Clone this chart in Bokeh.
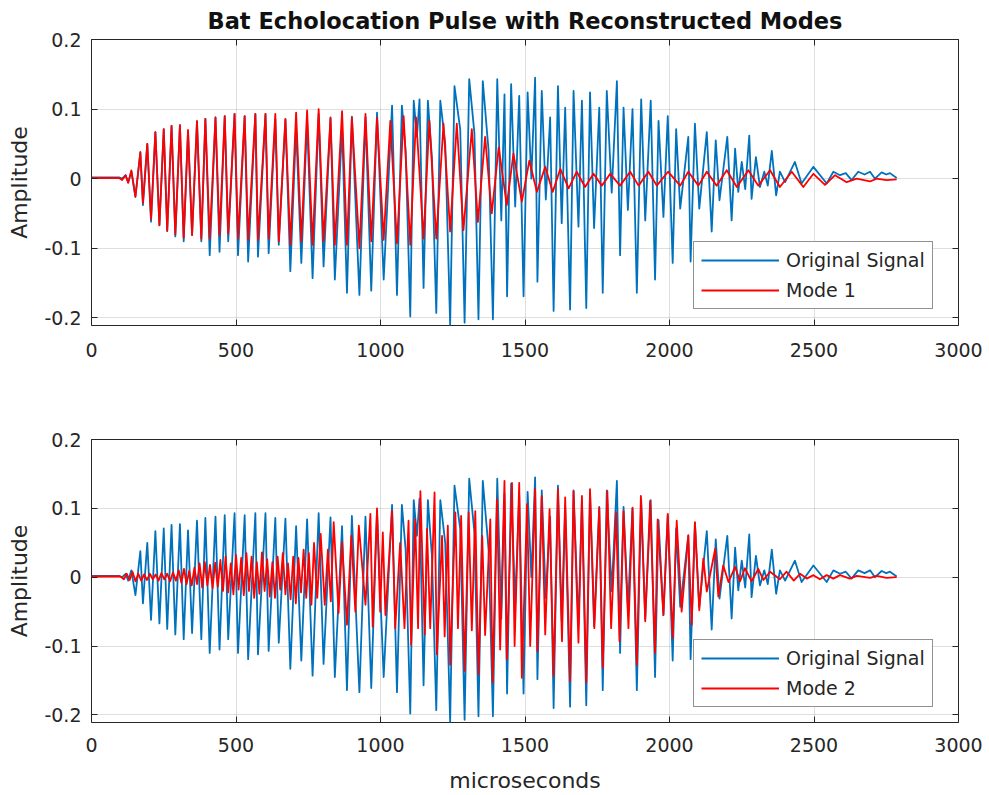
from bokeh.plotting import figure
from bokeh.layouts import column
from bokeh.models import (LinearAxis, FixedTicker, Range1d, Legend, LegendItem,
                          Title, Grid)
from bokeh.embed import file_html
from bokeh.resources import INLINE

# ---------------- data ----------------
# time in microseconds, amplitude values at the visible turning points
orig_t = [0, 95, 106, 118, 127, 138, 152, 169, 178, 193,
          206, 221, 235, 250, 262, 277, 290, 306, 319, 334,
          348, 365, 380, 394, 409, 429, 443, 461, 473, 495,
          507, 530, 542, 567, 576, 602, 613, 636, 648, 671,
          688, 708, 726, 746, 765, 786, 803, 827, 842, 867,
          884, 901, 927, 948, 968, 988,
          1011, 1040, 1057, 1074, 1087, 1103, 1115, 1126, 1135, 1149,
          1164, 1178, 1193, 1207, 1224, 1241, 1256, 1276, 1291, 1307,
          1325, 1339, 1354, 1374, 1389, 1404, 1418, 1429, 1438, 1452,
          1466, 1480, 1495, 1509, 1522,
          1535, 1543, 1558, 1572, 1587, 1599, 1614, 1627, 1639, 1656,
          1668, 1685, 1697, 1712, 1725, 1739, 1757, 1769, 1783, 1800,
          1818, 1829, 1841, 1856, 1872, 1887, 1902, 1916, 1935, 1950,
          1962, 1979, 1994, 2011, 2023, 2037,
          2065, 2073, 2088, 2103, 2129, 2146, 2160, 2173, 2200, 2215,
          2227, 2238, 2250, 2262, 2276, 2284, 2299, 2313, 2328, 2340,
          2354, 2369, 2382, 2400, 2434, 2457, 2498, 2544, 2567, 2590,
          2610, 2630, 2653, 2675, 2694, 2711, 2734, 2750, 2763, 2786]
orig_v = [0.002, 0.002, 0.0, 0.005, -0.005, 0.01, -0.026, 0.038, -0.038, 0.05,
          -0.062, 0.067, -0.067, 0.071, -0.075, 0.076, -0.083, 0.077, -0.09, 0.068,
          -0.081, 0.082, -0.09, 0.086, -0.11, 0.088, -0.105, 0.09, -0.09, 0.093,
          -0.11, 0.09, -0.119, 0.093, -0.112, 0.093, -0.107, 0.086, -0.095, 0.085,
          -0.133, 0.074, -0.121, 0.084, -0.143, 0.093, -0.126, 0.087, -0.145, 0.074,
          -0.164, 0.089, -0.167, 0.088, -0.161, 0.095,
          -0.145, 0.105, -0.167, 0.105, 0.04, -0.198, 0.112, 0.06, 0.114, -0.157,
          0.112, 0.03, -0.193, 0.112, 0.05, -0.21, 0.133, 0.07, -0.207, 0.143,
          0.065, -0.202, 0.14, 0.04, -0.202, 0.143, -0.06, 0.121, -0.169, 0.136,
          -0.04, 0.119, -0.169, 0.124, 0.0,
          0.145, -0.148, 0.126, -0.03, 0.088, -0.19, 0.133, -0.064, 0.102, -0.188,
          0.126, -0.069, 0.112, -0.186, 0.124, -0.071, 0.102, -0.164, 0.126, -0.02,
          0.14, -0.11, 0.102, -0.045, 0.1, -0.164, 0.114, -0.06, 0.112, -0.145,
          0.083, -0.055, 0.09, -0.121, 0.071, -0.043,
          0.06, -0.119, 0.079, -0.043, 0.067, -0.076, 0.055, -0.031, 0.06, -0.06,
          0.043, -0.019, 0.024, -0.015, 0.062, -0.029, 0.031, -0.012, 0.01, -0.01,
          0.04, -0.024, 0.01, -0.005, 0.024, -0.007, 0.017, -0.007, 0.01, 0.005,
          0.008, -0.002, 0.01, 0.006, 0.01, 0.0, 0.009, 0.006, 0.008, 0.001]

mode1_t = [0, 95, 106, 118, 127, 138, 152, 169, 178, 193,
           206, 221, 235, 250, 262, 277, 290, 306, 319, 334,
           348, 365, 380, 394, 409, 429, 443, 461, 473, 495,
           507, 530, 542, 567, 576, 602, 613, 636, 648, 671,
           688, 708, 726, 746, 765, 786, 803, 827, 842, 867,
           884, 901, 927, 948, 968, 988,
           1011, 1034, 1057, 1080, 1103, 1123, 1149, 1169, 1193, 1218,
           1241, 1264, 1287, 1316, 1337, 1362, 1385, 1409, 1437, 1460,
           1489, 1515, 1541, 1570, 1596, 1622, 1651, 1679, 1708, 1737,
           1766, 1795, 1829, 1864, 1893, 1927, 1956, 1995, 2037, 2065,
           2100, 2129, 2163, 2198, 2233, 2273, 2307, 2348, 2382, 2423,
           2463, 2498, 2538, 2573, 2613, 2648, 2694, 2717, 2751, 2786]
mode1_v = [0.001, 0.001, -0.002, 0.005, -0.006, 0.012, -0.026, 0.038, -0.035, 0.05,
           -0.058, 0.067, -0.067, 0.071, -0.075, 0.076, -0.08, 0.077, -0.085, 0.07,
           -0.081, 0.083, -0.086, 0.086, -0.086, 0.088, -0.081, 0.09, -0.079, 0.093,
           -0.086, 0.09, -0.088, 0.093, -0.088, 0.093, -0.086, 0.093, -0.09, 0.086,
           -0.095, 0.095, -0.09, 0.098, -0.095, 0.1, -0.09, 0.088, -0.095, 0.097,
           -0.095, 0.088, -0.1, 0.093, -0.09, 0.087,
           -0.088, 0.083, -0.093, 0.09, -0.095, 0.088, -0.086, 0.083, -0.086, 0.079,
           -0.076, 0.079, -0.074, 0.071, -0.062, 0.06, -0.05, 0.045, -0.038, 0.036,
           -0.033, 0.026, -0.019, 0.017, -0.019, 0.014, -0.014, 0.01, -0.012, 0.007,
           -0.01, 0.007, -0.01, 0.01, -0.01, 0.01, -0.01, 0.01, -0.01, 0.01,
           -0.01, 0.01, -0.01, 0.012, -0.012, 0.012, -0.01, 0.012, -0.012, 0.01,
           -0.012, 0.007, -0.009, 0.005, -0.005, 0.0, -0.004, 0.0, -0.002, -0.001]

mode2_t = [0, 100, 112, 122, 132, 142, 152, 162, 172, 182,
           192, 202, 212, 222, 232, 242, 252, 262, 272, 282,
           292, 302, 311, 320, 329, 338, 347, 356, 365, 374,
           383, 392, 401, 410, 419, 428, 437, 446, 455, 464,
           473, 482, 491, 500, 509, 518, 527, 536, 545, 554,
           563, 572, 581, 590, 599, 608, 617, 626, 635, 644,
           653, 662, 671, 680, 689, 698, 707, 716, 725, 734,
           743, 752, 761, 770, 781, 793, 807, 818, 828, 838,
           855, 867, 884, 899, 913, 925, 948, 965, 973, 988,
           999, 1008, 1017,
           1040, 1051, 1068, 1083, 1097, 1106, 1120, 1130, 1138, 1153,
           1161, 1172, 1187, 1195, 1213, 1222, 1233, 1241, 1259, 1268,
           1279, 1291, 1305, 1316, 1328, 1339, 1352, 1362, 1380, 1388,
           1403, 1414, 1429, 1437, 1455, 1464, 1480, 1489, 1507, 1518,
           1535, 1543, 1558, 1570, 1585, 1599, 1614, 1628, 1639, 1656,
           1668, 1685, 1697, 1712, 1725, 1740, 1757, 1769, 1785, 1798,
           1815, 1827, 1841, 1858, 1872, 1887, 1901, 1916, 1933, 1950,
           1959, 1979, 1994, 2011, 2025, 2042, 2065, 2077, 2088, 2103,
           2117, 2129, 2158, 2169, 2186, 2204, 2227, 2244, 2261, 2284,
           2307, 2325, 2348, 2382, 2405, 2430, 2452, 2475, 2498, 2520,
           2544, 2567, 2590, 2624, 2648, 2694, 2717, 2751, 2786]
mode2_v = [0.001, 0.001, -0.003, 0.005, -0.004, 0.008, -0.006, 0.005, -0.005, 0.004,
           -0.004, 0.005, -0.003, 0.004, -0.005, 0.006, -0.003, 0.005, -0.006, 0.007,
           -0.005, 0.01, -0.008, 0.012, -0.01, 0.009, -0.012, 0.014, -0.01, 0.02,
           -0.015, 0.022, -0.012, 0.018, -0.016, 0.021, -0.014, 0.025, -0.02, 0.03,
           -0.022, 0.02, -0.025, 0.032, -0.018, 0.028, -0.026, 0.035, -0.02, 0.03,
           -0.03, 0.022, -0.024, 0.036, -0.02, 0.026, -0.028, 0.022, -0.03, 0.03,
           -0.018, 0.035, -0.025, 0.02, -0.032, 0.03, -0.038, 0.028, -0.022, 0.04,
           -0.03, 0.035, -0.04, 0.05, -0.03, 0.063, -0.04, 0.04, -0.035, 0.08,
           -0.052, 0.051, -0.069, 0.06, -0.05, 0.075, -0.04, 0.092, -0.072, 0.1,
           -0.05, 0.065, -0.055,
           0.096, -0.074, 0.05, -0.074, 0.082, -0.098, 0.084, -0.074, 0.125, -0.083,
           0.07, -0.074, 0.123, -0.112, 0.06, -0.086, 0.075, -0.127, 0.094, -0.074,
           0.089, -0.136, 0.094, -0.077, 0.096, -0.141, 0.06, -0.084, 0.084, -0.153,
           0.113, -0.105, 0.14, -0.119, 0.137, -0.1, 0.137, -0.146, 0.106, -0.1,
           0.128, -0.107, 0.118, -0.083, 0.099, -0.143, 0.128, -0.093, 0.116, -0.151,
           0.125, -0.095, 0.118, -0.153, 0.128, -0.074, 0.101, -0.131, 0.125, -0.074,
           0.094, -0.093, 0.096, -0.074, 0.101, -0.127, 0.118, -0.064, 0.111, -0.11,
           0.084, -0.055, 0.092, -0.088, 0.082, -0.05, 0.061, -0.069, 0.08, -0.048,
           0.027, -0.021, 0.041, -0.028, 0.017, -0.007, 0.015, -0.006, 0.013, -0.006,
           0.012, -0.004, 0.008, -0.003, 0.008, -0.005, 0.005, -0.002, 0.003, -0.003,
           0.003, -0.002, 0.003, -0.002, 0.002, -0.001, 0.002, -0.001, 0.0]

x_ticks = [0, 500, 1000, 1500, 2000, 2500, 3000]
y_ticks = [-0.2, -0.1, 0, 0.1, 0.2]
y_tick_labels = ["-0.2", "-0.1", "0", "0.1", "0.2"]
title_text = "Bat Echolocation Pulse with Reconstructed Modes"
series_names = ["Original Signal", "Mode 1", "Mode 2"]
y_label = "Amplitude"
x_label = "microseconds"

assert len(orig_t) == len(orig_v)
assert len(mode1_t) == len(mode1_v)
assert len(mode2_t) == len(mode2_v)

# ---------------- styling ----------------
BLUE = "#0072BD"
RED = "#FF0000"
AX = "#262626"
FONT = "DejaVu Sans"
TICK_FS = "19px"
LABEL_FS = "22px"
LW = 1.8


def styled_axis(ticks, show, overrides=None):
    ax = LinearAxis(ticker=FixedTicker(ticks=ticks))
    ax.axis_line_color = None
    ax.major_tick_in = 6
    ax.major_tick_out = 0
    ax.major_tick_line_color = AX
    ax.major_tick_line_width = 1
    ax.minor_tick_line_color = None
    if show:
        ax.major_label_text_font = FONT
        ax.major_label_text_font_size = TICK_FS
        ax.major_label_text_color = AX
        if overrides:
            ax.major_label_overrides = overrides
    else:
        # tick marks only (box-style ticks on top / right), no labels drawn
        ax.major_label_text_color = None
        ax.major_label_text_alpha = 0
        ax.major_label_text_font_size = "1px"
        ax.major_label_standoff = 0
    return ax


def make_fig(height, b_top, b_bottom, mode_t, mode_v, mode_name, legend_y,
             title=None, xlabel=None, tick_standoff=17):
    p = figure(width=985, height=height,
               x_range=Range1d(0, 3000), y_range=Range1d(-0.211, 0.2),
               x_axis_type=None, y_axis_type=None,
               output_backend="svg", toolbar_location=None,
               min_border_left=91, min_border_right=27,
               min_border_top=b_top, min_border_bottom=b_bottom)
    p.background_fill_color = "white"
    p.border_fill_color = "white"
    p.outline_line_color = AX
    p.outline_line_width = 1
    p.outline_line_alpha = 1

    p.add_layout(Grid(dimension=0, ticker=FixedTicker(ticks=x_ticks),
                      grid_line_color=AX, grid_line_alpha=0.15))
    p.add_layout(Grid(dimension=1, ticker=FixedTicker(ticks=y_ticks),
                      grid_line_color=AX, grid_line_alpha=0.15))

    xb = styled_axis(x_ticks, True)
    xb.major_label_standoff = tick_standoff
    if xlabel:
        xb.axis_label = xlabel
        xb.axis_label_text_font = FONT
        xb.axis_label_text_font_size = LABEL_FS
        xb.axis_label_text_font_style = "normal"
        xb.axis_label_text_color = AX
        xb.axis_label_text_line_height = 0.8
        xb.axis_label_standoff = 13
    p.add_layout(xb, "below")

    yl = styled_axis(y_ticks, True, dict(zip(y_ticks, y_tick_labels)))
    yl.major_label_standoff = 10
    yl.axis_label = y_label
    yl.axis_label_text_font = FONT
    yl.axis_label_text_font_size = LABEL_FS
    yl.axis_label_text_font_style = "normal"
    yl.axis_label_text_color = AX
    yl.axis_label_standoff = 9
    p.add_layout(yl, "left")

    p.add_layout(styled_axis(x_ticks, False), "above")
    p.add_layout(styled_axis(y_ticks, False), "right")

    if title:
        t = Title(text=title, align="center", text_font=FONT,
                  text_font_style="bold", text_font_size="22.5px",
                  text_color="#111111", standoff=8, vertical_align="top")
        p.add_layout(t, "above")

    r_o = p.line(orig_t, orig_v, line_color=BLUE, line_width=LW,
                 line_join="round")
    r_m = p.line(mode_t, mode_v, line_color=RED, line_width=LW,
                 line_join="round")

    legend = Legend(items=[LegendItem(label=series_names[0], renderers=[r_o]),
                           LegendItem(label=mode_name, renderers=[r_m])],
                    location=(602, legend_y), orientation="vertical")
    legend.border_line_color = AX
    legend.border_line_width = 1
    legend.background_fill_color = "white"
    legend.background_fill_alpha = 1
    legend.label_text_font = FONT
    legend.label_text_font_size = "19px"
    legend.label_text_color = AX
    legend.glyph_width = 78
    legend.glyph_height = 22
    legend.label_height = 22
    legend.label_standoff = 7
    legend.padding = 7
    legend.spacing = 8
    legend.margin = 0
    p.add_layout(legend)
    return p


p1 = make_fig(408, 39, 83, mode1_t, mode1_v, series_names[1], 16,
              title=title_text, tick_standoff=17)
p2 = make_fig(387, 31, 72, mode2_t, mode2_v, series_names[2], 15,
              xlabel=x_label, tick_standoff=15)

layout = column(p1, p2, spacing=0)
open("out.html", "w").write(file_html(layout, INLINE))
